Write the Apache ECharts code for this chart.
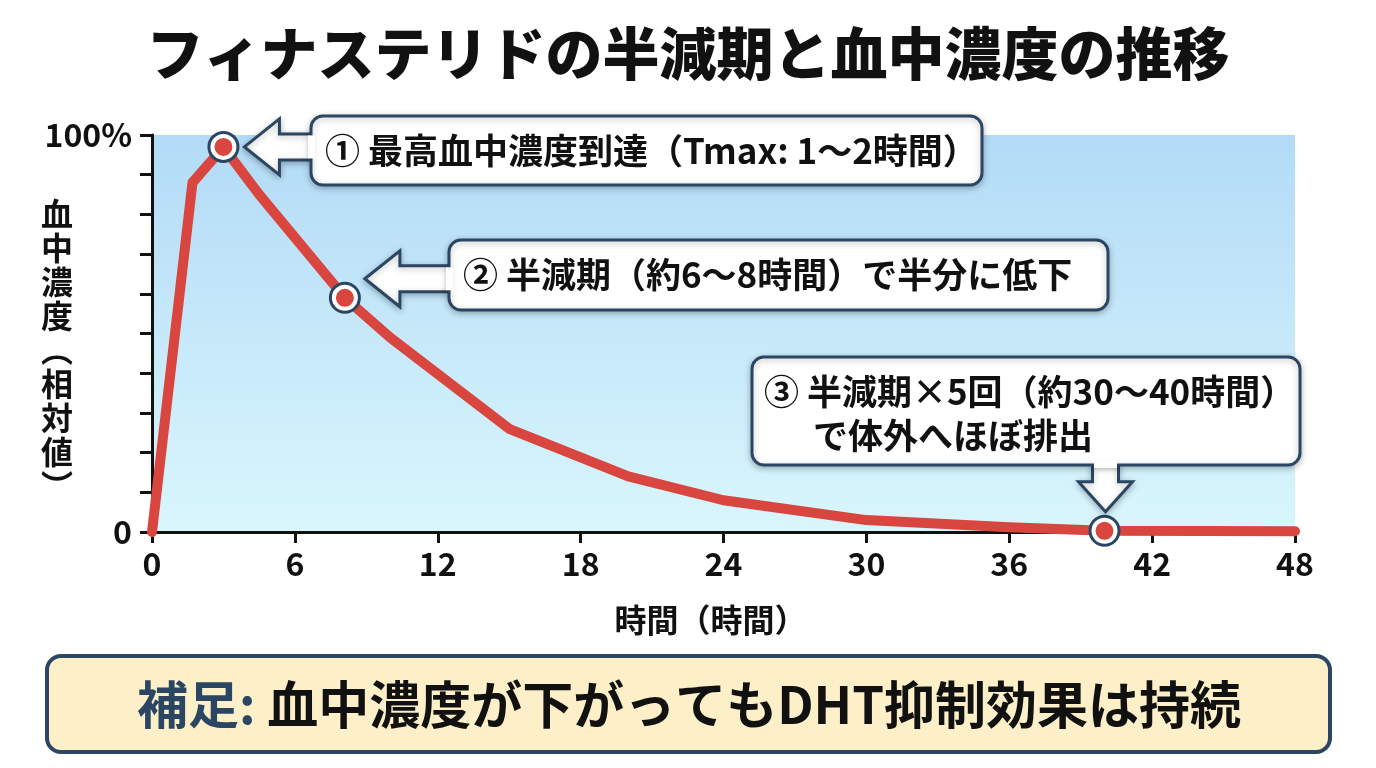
<!DOCTYPE html>
<html>
<head>
<meta charset="utf-8">
<script src="https://cdn.jsdelivr.net/npm/echarts@6/dist/echarts.min.js"></script>
<style>
html,body{margin:0;padding:0;background:#fff;}
#c{width:1376px;height:768px;}
</style>
</head>
<body>
<div id="c"></div>
<script>
// ---- data ----
const hours = [0, 1.7, 3, 4.5, 8.1, 10, 15, 20, 24, 30, 36, 40, 48];
const concentration = [0, 88, 97, 85, 59, 49, 26, 14, 8, 3, 1.2, 0.3, 0.2];
const highlightIdx = [2, 4, 11];
const yTickLabels = { 0: '0', 100: '100%' };
const titleText = 'フィナステリドの半減期と血中濃度の推移';
const xAxisName = '時間（時間）';
const yAxisNameChars = ['血', '中', '濃', '度', '︵', '相', '対', '値', '︶'];
const note1 = '① 最高血中濃度到達（Tmax: 1〜2時間）';
const note2 = '② 半減期（約6〜8時間）で半分に低下';
const note3 = ['③ 半減期×5回（約30〜40時間）', 'で体外へほぼ排出'];
const footLabel = '補足:';
const footText = '血中濃度が下がってもDHT抑制効果は持続';

const FONT = '"Noto Sans CJK JP", "Noto Sans", sans-serif';
const NAVY = '#2b4663';
const RED = '#d8463f';

const chart = echarts.init(document.getElementById('c'), null, { renderer: 'canvas' });

const lineData = hours.map((h, i) => [h, concentration[i]]);
const markData = highlightIdx.map(i => [hours[i], concentration[i]]);

chart.setOption({
  animation: false,
  backgroundColor: '#ffffff',
  title: {
    text: titleText,
    left: 'center',
    top: 20,
    textStyle: { fontFamily: FONT, fontSize: 57, fontWeight: 900, color: '#111' }
  },
  grid: {
    left: 152, right: 81, top: 135, bottom: 236,
    show: true,
    borderWidth: 0,
    backgroundColor: {
      type: 'linear', x: 0, y: 0, x2: 0, y2: 1,
      colorStops: [{ offset: 0, color: '#b3dbf7' }, { offset: 1, color: '#d9f6fc' }]
    }
  },
  xAxis: {
    type: 'value', min: 0, max: 48, interval: 6,
    name: xAxisName, nameLocation: 'middle', nameGap: 72,
    nameTextStyle: { fontFamily: FONT, fontSize: 32, fontWeight: 'bold', color: '#111', padding: [0, 26, 0, 0] },
    axisLine: { show: true, onZero: false, lineStyle: { color: '#111', width: 3 } },
    axisTick: { show: true, length: 11, lineStyle: { color: '#111', width: 3 } },
    axisLabel: { fontFamily: FONT, fontSize: 32, fontWeight: 'bold', color: '#111', margin: 16 },
    splitLine: { show: false }
  },
  yAxis: {
    type: 'value', min: 0, max: 100, interval: 10,
    axisLine: { show: true, lineStyle: { color: '#111', width: 3 } },
    axisTick: { show: true, length: 12, lineStyle: { color: '#111', width: 3 } },
    axisLabel: {
      fontFamily: FONT, fontSize: 32, fontWeight: 'bold', color: '#111', margin: 20,
      formatter: v => (yTickLabels[v] !== undefined ? yTickLabels[v] : '')
    },
    splitLine: { show: false }
  },
  series: [
    {
      type: 'line', data: lineData, symbol: 'none', silent: true, z: 2,
      lineStyle: { color: RED, width: 10, join: 'round', cap: 'round' }
    },
    {
      type: 'scatter', data: markData, symbol: 'circle', symbolSize: 32, silent: true, z: 3,
      itemStyle: { color: NAVY, opacity: 1 }
    },
    {
      type: 'scatter', data: markData, symbol: 'circle', symbolSize: 22, silent: true, z: 4,
      itemStyle: { color: RED, borderColor: '#ffffff', borderWidth: 4, opacity: 1 }
    }
  ]
});

// ---- annotations (positions from axis scales) ----
const p1 = chart.convertToPixel({ gridIndex: 0 }, markData[0]);
const p2 = chart.convertToPixel({ gridIndex: 0 }, markData[1]);
const p3 = chart.convertToPixel({ gridIndex: 0 }, markData[2]);

const shadow = { shadowBlur: 6, shadowColor: 'rgba(0,0,0,0.25)', shadowOffsetY: 2 };
const g = [];

function leftArrowBox(tipX, tipY, box, text) {
  const headLen = 35, headHalf = 28, shaftHalf = 13;
  const hx = tipX + headLen;
  g.push({
    type: 'polygon', z: 100,
    shape: { points: [[tipX, tipY], [hx, tipY - headHalf], [hx, tipY - shaftHalf], [box.x + 2, tipY - shaftHalf],
      [box.x + 2, tipY + shaftHalf], [hx, tipY + shaftHalf], [hx, tipY + headHalf]] },
    style: Object.assign({ fill: '#fff', stroke: NAVY, lineWidth: 3, lineJoin: 'miter' }, shadow)
  });
  g.push({
    type: 'rect', z: 101,
    shape: { x: box.x, y: box.y, width: box.w, height: box.h, r: 12 },
    style: Object.assign({ fill: '#fff', stroke: NAVY, lineWidth: 3 }, shadow)
  });
  g.push({
    type: 'rect', z: 102,
    shape: { x: box.x - 3, y: tipY - shaftHalf + 1.5, width: 7, height: shaftHalf * 2 - 3 },
    style: { fill: '#fff' }
  });
  g.push({
    type: 'text', z: 103, x: box.x + 14, y: box.y + box.h / 2,
    style: { text: text, fontFamily: FONT, fontSize: 35, fontWeight: 'bold', fill: '#111', textVerticalAlign: 'middle', textAlign: 'left' }
  });
}

leftArrowBox(p1[0] + 21, p1[1], { x: 311, y: 116, w: 671, h: 69 }, note1);
leftArrowBox(p2[0] + 20, p2[1] - 19, { x: 449, y: 240, w: 659, h: 70 }, note2);

// box 3 with down arrow
(function () {
  const box = { x: 752, y: 357, w: 548, h: 108 };
  const tipX = p3[0] + 1, tipY = p3[1] - 19;
  const headLen = 30, headHalf = 27, shaftHalf = 13;
  const hy = tipY - headLen;
  g.push({
    type: 'polygon', z: 100,
    shape: { points: [[tipX, tipY], [tipX - headHalf, hy], [tipX - shaftHalf, hy], [tipX - shaftHalf, box.y + box.h - 2],
      [tipX + shaftHalf, box.y + box.h - 2], [tipX + shaftHalf, hy], [tipX + headHalf, hy]] },
    style: Object.assign({ fill: '#fff', stroke: NAVY, lineWidth: 3 }, shadow)
  });
  g.push({
    type: 'rect', z: 101,
    shape: { x: box.x, y: box.y, width: box.w, height: box.h, r: 12 },
    style: Object.assign({ fill: '#fff', stroke: NAVY, lineWidth: 3 }, shadow)
  });
  g.push({
    type: 'rect', z: 102,
    shape: { x: tipX - shaftHalf + 1.5, y: box.y + box.h - 4, width: shaftHalf * 2 - 3, height: 7 },
    style: { fill: '#fff' }
  });
  g.push({
    type: 'text', z: 103, x: box.x + 12, y: box.y + 35,
    style: { text: note3[0], fontFamily: FONT, fontSize: 35, fontWeight: 'bold', fill: '#111', textVerticalAlign: 'middle' }
  });
  g.push({
    type: 'text', z: 103, x: box.x + 61, y: box.y + 79,
    style: { text: note3[1], fontFamily: FONT, fontSize: 35, fontWeight: 'bold', fill: '#111', textVerticalAlign: 'middle' }
  });
})();

// y axis name (vertical)
g.push({
  type: 'text', z: 50, x: 57, y: 350,
  style: { text: yAxisNameChars.join('\n'), fontFamily: FONT, fontSize: 32, fontWeight: 'bold', fill: '#111',
    textAlign: 'center', textVerticalAlign: 'middle', lineHeight: 34 }
});

// footer note
g.push({
  type: 'rect', z: 50,
  shape: { x: 47, y: 656, width: 1283, height: 96, r: 14 },
  style: { fill: '#fdf0c8', stroke: NAVY, lineWidth: 4 }
});
g.push({
  type: 'text', z: 51, x: 689, y: 705,
  style: {
    text: '{a|' + footLabel + '} {b|' + footText + '}',
    textAlign: 'center', textVerticalAlign: 'middle',
    rich: {
      a: { fontFamily: FONT, fontSize: 51, fontWeight: 'bold', fill: NAVY, color: NAVY },
      b: { fontFamily: FONT, fontSize: 51, fontWeight: 'bold', fill: '#111', color: '#111' }
    },
    fontFamily: FONT, fontSize: 51, fontWeight: 'bold'
  }
});

chart.setOption({ graphic: g });
</script>
</body>
</html>
